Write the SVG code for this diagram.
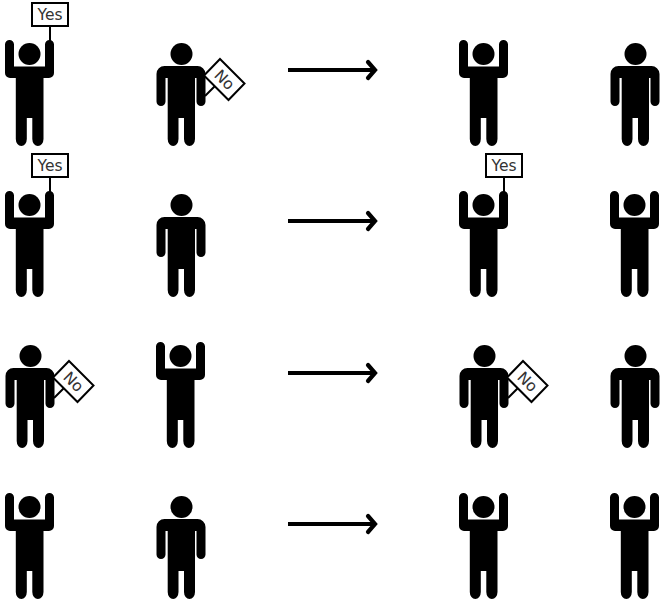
<svg xmlns="http://www.w3.org/2000/svg" width="661" height="601" viewBox="0 0 661 601">
<style>
.s{fill:#fff;stroke:#000;stroke-width:2}
.t{font-family:"DejaVu Sans",Verdana,sans-serif;font-size:15.500px;fill:#333;text-anchor:middle}
.a{fill:none;stroke:#000;stroke-width:4.200;stroke-linejoin:miter}
.h{fill:none;stroke:#000;stroke-width:4.200;stroke-linecap:round;stroke-linejoin:miter}
</style>
<defs>
<g id="up">
<circle cx="29.500" cy="54" r="11"/>
<path d="M5 44.500a4.500 4.500 0 0 1 9 0V66.500H45V44.500a4.500 4.500 0 0 1 9 0V73a5 5 0 0 1-5 5H43.500V139a5.600 7 0 0 1-11.200 0V118H26.800V139a5.500 7 0 0 1-11 0V78H10a5 5 0 0 1-5-5Z"/>
</g>
<g id="down">
<circle cx="181.500" cy="54" r="11"/>
<path d="M156.500 74a8 8 0 0 1 8-8H197a8 8 0 0 1 8.500 8V101.500a4.500 4.500 0 0 1-9 0V78H195V139a5.500 7 0 0 1-11 0V118H178.500V139a5.400 7 0 0 1-10.800 0V78H165.500V101.500a4.500 4.500 0 0 1-9 0Z"/>
</g>
<g id="yes">
<path d="M50 26V42" stroke="#000" stroke-width="2"/>
<rect class="s" x="32" y="3" width="36" height="23"/>
<text class="t" x="50" y="20">Yes</text>
</g>
<g id="no">
<path d="M205 96L215 86" stroke="#000" stroke-width="2"/>
<path class="s" d="M220 59L244.500 83.500L228.500 100L204 75.500Z"/>
<text class="t" transform="translate(224.700 79.700) rotate(45)" y="5.500">No</text>
</g>
</defs>
<g id="connectors">
<path class="a" d="M288 70H374"/><path class="h" d="M368 62L375 70L368 78"/>
<path class="a" d="M288 221H374"/><path class="h" d="M368 213L375 221L368 229"/>
<path class="a" d="M288 373H374"/><path class="h" d="M368 365L375 373L368 381"/>
<path class="a" d="M288 524H374"/><path class="h" d="M368 516L375 524L368 532"/>
</g>
<g id="r1a"><use href="#up"/><use href="#yes"/></g>
<g id="r1b"><use href="#down"/><use href="#no"/></g>
<g id="r1c"><use href="#up" x="454"/></g>
<g id="r1d"><use href="#down" x="454"/></g>
<g id="r2a"><use href="#up" y="151"/><use href="#yes" y="151"/></g>
<g id="r2b"><use href="#down" y="151"/></g>
<g id="r2c"><use href="#up" x="454" y="151"/><use href="#yes" x="454" y="151"/></g>
<g id="r2d"><use href="#up" x="605" y="151"/></g>
<g id="r3a"><use href="#down" x="-151" y="302"/><use href="#no" x="-151" y="302"/></g>
<g id="r3b"><use href="#up" x="151" y="302"/></g>
<g id="r3c"><use href="#down" x="303" y="302"/><use href="#no" x="303" y="302"/></g>
<g id="r3d"><use href="#down" x="454" y="302"/></g>
<g id="r4a"><use href="#up" y="453"/></g>
<g id="r4b"><use href="#down" y="453"/></g>
<g id="r4c"><use href="#up" x="454" y="453"/></g>
<g id="r4d"><use href="#up" x="605" y="453"/></g>
</svg>
